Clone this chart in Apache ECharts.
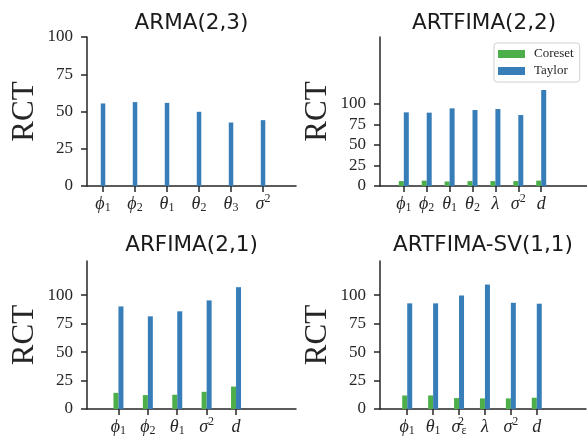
<!DOCTYPE html>
<html>
<head>
<meta charset="utf-8">
<script src="https://cdn.jsdelivr.net/npm/echarts@6.0.0/dist/echarts.min.js"></script>
<style>
    html, body { margin: 0; padding: 0; background: #fff; }
    #main { width: 587px; height: 438px; }
</style>
</head>
<body>
<div id="main"></div>
<script>
// 参数标签 (_ 下标, ^ 上标)
var armaLabels = ['ϕ_1', 'ϕ_2', 'θ_1', 'θ_2', 'θ_3', 'σ^2'];
var armaTaylor = [55.4, 56.3, 55.8, 49.8, 42.6, 44.2];

var artfimaLabels = ['ϕ_1', 'ϕ_2', 'θ_1', 'θ_2', 'λ', 'σ^2', 'd'];
var artfimaCoreset = [6, 6.5, 5.5, 6, 6, 6, 6.5];
var artfimaTaylor = [89.5, 89.1, 94.3, 92.3, 93.5, 86.2, 116.6];

var arfimaLabels = ['ϕ_1', 'ϕ_2', 'θ_1', 'σ^2', 'd'];
var arfimaCoreset = [14.2, 12.2, 12.5, 15.1, 19.7];
var arfimaTaylor = [90.1, 81.4, 85.8, 95.4, 107];

var svLabels = ['ϕ_1', 'θ_1', 'σ_ε^2', 'λ', 'σ^2', 'd'];
var svCoreset = [11.9, 11.9, 9.6, 9.3, 9.3, 9.9];
var svTaylor = [92.8, 92.8, 99.7, 109.3, 93.3, 92.5];

var yTicks = [0, 25, 50, 75, 100];

var GREEN = '#4daf4a';
var BLUE = '#377eb8';
var INK = '#262626';
var SERIF = '"Liberation Serif", "DejaVu Serif", serif';

function texLabel(s) {
    var m = s.match(/^([^_^]+)(?:_([^_^]+))?(?:\^(.+))?$/);
    var out = '{v|' + m[1] + '}';
    if (m[2] && m[3]) {
        out += '{supz|' + m[3] + '}{sub|' + m[2] + '}';
    } else if (m[2]) {
        out += '{sub|' + m[2] + '}';
    } else if (m[3]) {
        out += '{sup|' + m[3] + '}';
    }
    return out;
}

function idx(arr) {
    return arr.map(function (v, i) { return i; });
}

function pairs(vals) {
    return vals.map(function (v, i) { return [i, v]; });
}

var richStyle = {
    v: { fontFamily: SERIF, fontStyle: 'italic', fontSize: 18, color: INK, lineHeight: 22 },
    sub: { fontFamily: SERIF, fontSize: 12, color: INK, lineHeight: 22, verticalAlign: 'bottom', padding: [0, 0, 1, 0] },
    sup: { fontFamily: SERIF, fontSize: 12, color: INK, lineHeight: 22, verticalAlign: 'top' },
    supz: { fontFamily: SERIF, fontSize: 12, color: INK, lineHeight: 22, verticalAlign: 'top', width: 1 }
};

function makeX(gi, labels, min, max) {
    return {
        type: 'value',
        gridIndex: gi,
        min: min,
        max: max,
        splitLine: { show: false },
        axisLine: { onZero: false, lineStyle: { color: INK, width: 1.5 } },
        axisTick: { length: 6, lineStyle: { color: INK, width: 1.5 }, customValues: idx(labels) },
        axisLabel: {
            margin: 7,
            customValues: idx(labels),
            formatter: function (v) { return texLabel(labels[Math.round(v)]); },
            rich: richStyle
        }
    };
}

function makeY(gi, max) {
    return {
        type: 'value',
        gridIndex: gi,
        min: 0,
        max: max,
        name: 'RCT',
        nameLocation: 'middle',
        nameGap: 47,
        nameTextStyle: { fontFamily: SERIF, fontSize: 31, color: INK },
        splitLine: { show: false },
        axisLine: { show: true, onZero: false, lineStyle: { color: INK, width: 1.5 } },
        axisTick: { show: true, length: 6, lineStyle: { color: INK, width: 1.5 }, customValues: yTicks },
        axisLabel: { margin: 14, fontFamily: SERIF, fontSize: 17, color: INK, customValues: yTicks }
    };
}

function bars(name, color, gi, vals, width) {
    return {
        name: name,
        type: 'bar',
        xAxisIndex: gi,
        yAxisIndex: gi,
        barWidth: width,
        barGap: '0%',
        itemStyle: { color: color },
        data: pairs(vals)
    };
}

function title(text, x, y) {
    return {
        text: text,
        left: x,
        top: y,
        textAlign: 'center',
        padding: 0,
        textStyle: { fontFamily: '"DejaVu Sans", sans-serif', fontWeight: 'normal', fontSize: 21.5, color: '#1a1a1a' }
    };
}

var myChart = echarts.init(document.getElementById('main'));

myChart.setOption({
    animation: false,
    title: [
        title('ARMA(2,3)', 191.5, 12),
        title('ARTFIMA(2,2)', 484, 12),
        title('ARFIMA(2,1)', 191.5, 234),
        title('ARTFIMA-SV(1,1)', 483, 234)
    ],
    legend: {
        data: ['Coreset', 'Taylor'],
        orient: 'vertical',
        left: 494,
        top: 43,
        padding: [4, 6, 4, 4],
        itemWidth: 27,
        itemHeight: 8,
        itemGap: 3,
        icon: 'rect',
        backgroundColor: '#fff',
        borderColor: '#d0d0d0',
        borderWidth: 1,
        borderRadius: 3,
        textStyle: { fontFamily: SERIF, fontSize: 13, color: INK, lineHeight: 14, padding: [0, 0, 0, 4] }
    },
    grid: [
        { left: 87, top: 37, width: 209, height: 149 },
        { left: 380, top: 37, width: 210, height: 149 },
        { left: 87, top: 261, width: 209, height: 150 },
        { left: 380, top: 261, width: 206, height: 150 }
    ],
    xAxis: [
        makeX(0, armaLabels, -0.5, 6.03),
        makeX(1, artfimaLabels, -1.04, 8),
        makeX(2, arfimaLabels, -1.07, 6.04),
        makeX(3, svLabels, -1.05, 6.9)
    ],
    yAxis: [
        makeY(0, 100),
        makeY(1, 181),
        makeY(2, 130),
        makeY(3, 130)
    ],
    series: [
        bars('Taylor', BLUE, 0, armaTaylor, 4.5),
        bars('Coreset', GREEN, 1, artfimaCoreset, 5),
        bars('Taylor', BLUE, 1, artfimaTaylor, 5),
        bars('Coreset', GREEN, 2, arfimaCoreset, 5),
        bars('Taylor', BLUE, 2, arfimaTaylor, 5),
        bars('Coreset', GREEN, 3, svCoreset, 5),
        bars('Taylor', BLUE, 3, svTaylor, 5)
    ]
});
</script>
</body>
</html>
